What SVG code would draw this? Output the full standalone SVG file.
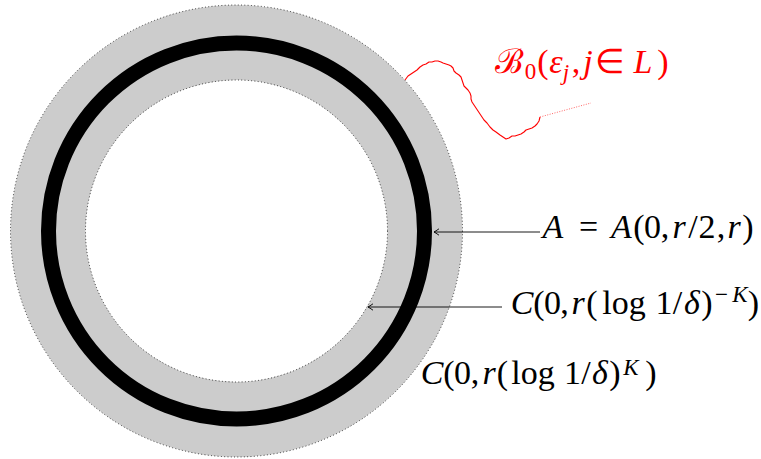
<svg xmlns="http://www.w3.org/2000/svg" width="761" height="459" viewBox="0 0 761 459">
<defs>
<style>
text{font-family:"Liberation Serif","Times New Roman",serif;font-size:34px;fill:#000;text-anchor:middle}
.it{font-style:italic}
.sub{font-size:23px}
.red{fill:#ff0000}
.dotc{stroke:#000;stroke-width:0.8;stroke-dasharray:0.9 2.4}
.arr{stroke:#000;stroke-width:0.9;fill:none}
</style>
<marker id="ah" viewBox="-6 -4 7 8" markerWidth="7" markerHeight="8" refX="0" refY="0" orient="auto" markerUnits="userSpaceOnUse">
<path d="M -5 -3.2 Q -1.5 -0.8 0 0 Q -1.5 0.8 -5 3.2" fill="none" stroke="#000" stroke-width="0.9"/>
</marker>
</defs>
<rect width="761" height="459" fill="#fff"/>
<g id="annulus-C">
<circle cx="236.5" cy="231" r="226" fill="#cccccc" class="dotc"/>
<circle cx="236.5" cy="231" r="151" fill="#ffffff" class="dotc"/>
</g>
<g id="annulus-A">
<circle cx="236.5" cy="231" r="188" fill="none" stroke="#000" stroke-width="15"/>
</g>
<g id="connectors">
<line class="arr" x1="540" y1="232" x2="434" y2="232" marker-end="url(#ah)"/>
<line class="arr" x1="502" y1="307" x2="368" y2="307" marker-end="url(#ah)"/>
<polyline fill="none" stroke="#ff0000" stroke-width="1.1" stroke-linejoin="round" points="405,80 408,76 411,74 414,72 417,70 420,67 423,65 426,64 429,62 432,62 435,61 438,61 441,62 443,63 446,64 449,65 451,66 453,68 454,71 456,73 459,75 461,77 462,80 463,83 464,86 466,88 468,90 470,93 471,96 471,99 472,102 474,105 476,108 478,111 480,114 482,117 484,120 487,123 490,127 493,130 496,132 500,135 503,137 506,139 509,138 512,136 515,136 518,135 521,134 524,132 526,130 529,129 532,128 535,126 537,124 539,121 540,117"/>
<line x1="540" y1="117" x2="591" y2="103" stroke="#ff0000" stroke-opacity="0.6" stroke-width="1" stroke-dasharray="1 1.5"/>
</g>
<g id="label-A">
<text y="238"><tspan class="it" x="553">A</tspan><tspan x="588.5">=</tspan><tspan class="it" x="621.5">A</tspan><tspan x="639">(</tspan><tspan x="652.5">0</tspan><tspan x="665">,</tspan><tspan class="it" x="679">r</tspan><tspan x="693">/</tspan><tspan x="707">2</tspan><tspan x="721">,</tspan><tspan class="it" x="734">r</tspan><tspan x="748">)</tspan></text>
</g>
<g id="label-C-minus">
<text y="313.5"><tspan class="it" x="522">C</tspan><tspan x="539">(</tspan><tspan x="552.5">0</tspan><tspan x="564.5">,</tspan><tspan class="it" x="578">r</tspan><tspan x="592">(</tspan><tspan x="624">log</tspan><tspan x="664">1</tspan><tspan x="677.5">/</tspan><tspan class="it" x="692">δ</tspan><tspan x="707">)</tspan></text>
<text class="sub" y="302"><tspan x="721.5">−</tspan><tspan class="it" x="740">K</tspan></text>
<text y="313.5" x="753.5">)</text>
</g>
<g id="label-C-plus">
<text y="384"><tspan class="it" x="432">C</tspan><tspan x="449">(</tspan><tspan x="462.5">0</tspan><tspan x="475">,</tspan><tspan class="it" x="489">r</tspan><tspan x="502.5">(</tspan><tspan x="533">log</tspan><tspan x="572.5">1</tspan><tspan x="586">/</tspan><tspan class="it" x="600">δ</tspan><tspan x="615">)</tspan></text>
<text class="sub it" y="375" x="631">K</text>
<text y="384" x="651">)</text>
</g>
<g id="label-B">
<text class="red" y="73"><tspan x="509">ℬ</tspan><tspan x="543">(</tspan><tspan class="it" x="556">ε</tspan><tspan x="576">,</tspan><tspan class="it" x="588">j</tspan><tspan x="610">∈</tspan><tspan class="it" x="643">L</tspan><tspan x="663">)</tspan></text>
<text class="red sub" y="79" x="530.5">0</text>
<text class="red sub it" y="80" x="566">j</text>
</g>
</svg>
